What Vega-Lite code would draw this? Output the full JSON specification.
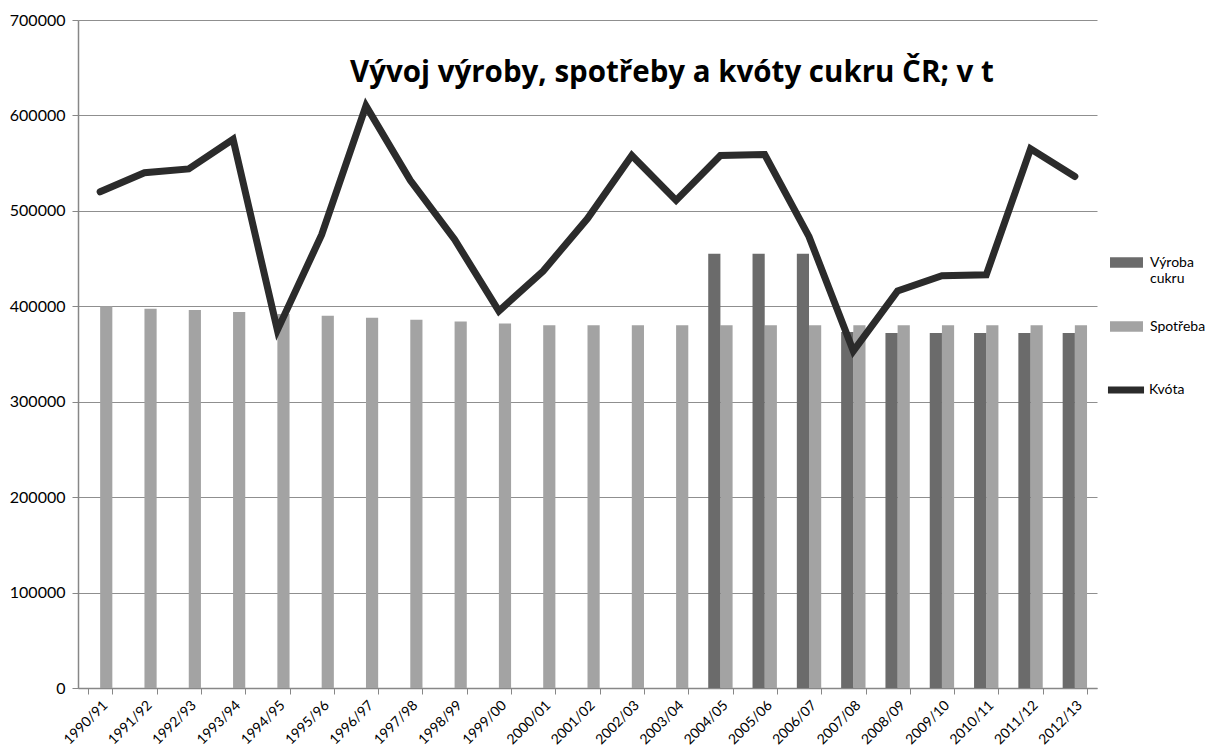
{
  "$schema": "https://vega.github.io/schema/vega-lite/v6.json",
  "width": 1019,
  "height": 668,
  "autosize": {"type": "none"},
  "padding": {"left": 78, "top": 20, "right": 114, "bottom": 63},
  "background": "white",
  "config": {
    "font": "Lato",
    "view": {"stroke": null},
    "axis": {"labelFont": "Lato", "labelColor": "#000", "labelFontSize": 16, "domainColor": "#878787", "tickColor": "#878787", "gridColor": "#8f8f8f", "domainWidth": 1.5, "gridWidth": 1.2}
  },
  "title": {
    "text": "Vývoj výroby, spotřeby a kvóty cukru ČR; v t",
    "font": "Open Sans",
    "fontSize": 29.5,
    "fontWeight": "bold",
    "color": "#000",
    "anchor": "start",
    "frame": "group",
    "dx": 272,
    "dy": 80
  },
  "datasets": {
    "bars": [
      {"rok": "1990/91", "serie": "Spotřeba", "hodnota": 400000},
      {"rok": "1991/92", "serie": "Spotřeba", "hodnota": 397500},
      {"rok": "1992/93", "serie": "Spotřeba", "hodnota": 396000},
      {"rok": "1993/94", "serie": "Spotřeba", "hodnota": 394000},
      {"rok": "1994/95", "serie": "Spotřeba", "hodnota": 392000},
      {"rok": "1995/96", "serie": "Spotřeba", "hodnota": 390000},
      {"rok": "1996/97", "serie": "Spotřeba", "hodnota": 388000},
      {"rok": "1997/98", "serie": "Spotřeba", "hodnota": 386000},
      {"rok": "1998/99", "serie": "Spotřeba", "hodnota": 384000},
      {"rok": "1999/00", "serie": "Spotřeba", "hodnota": 382000},
      {"rok": "2000/01", "serie": "Spotřeba", "hodnota": 380000},
      {"rok": "2001/02", "serie": "Spotřeba", "hodnota": 380000},
      {"rok": "2002/03", "serie": "Spotřeba", "hodnota": 380000},
      {"rok": "2003/04", "serie": "Spotřeba", "hodnota": 380000},
      {"rok": "2004/05", "serie": "Spotřeba", "hodnota": 380000},
      {"rok": "2005/06", "serie": "Spotřeba", "hodnota": 380000},
      {"rok": "2006/07", "serie": "Spotřeba", "hodnota": 380000},
      {"rok": "2007/08", "serie": "Spotřeba", "hodnota": 380000},
      {"rok": "2008/09", "serie": "Spotřeba", "hodnota": 380000},
      {"rok": "2009/10", "serie": "Spotřeba", "hodnota": 380000},
      {"rok": "2010/11", "serie": "Spotřeba", "hodnota": 380000},
      {"rok": "2011/12", "serie": "Spotřeba", "hodnota": 380000},
      {"rok": "2012/13", "serie": "Spotřeba", "hodnota": 380000},
      {"rok": "2004/05", "serie": "Výroba cukru", "hodnota": 455000},
      {"rok": "2005/06", "serie": "Výroba cukru", "hodnota": 455000},
      {"rok": "2006/07", "serie": "Výroba cukru", "hodnota": 455000},
      {"rok": "2007/08", "serie": "Výroba cukru", "hodnota": 373000},
      {"rok": "2008/09", "serie": "Výroba cukru", "hodnota": 372000},
      {"rok": "2009/10", "serie": "Výroba cukru", "hodnota": 372000},
      {"rok": "2010/11", "serie": "Výroba cukru", "hodnota": 372000},
      {"rok": "2011/12", "serie": "Výroba cukru", "hodnota": 372000},
      {"rok": "2012/13", "serie": "Výroba cukru", "hodnota": 372000}
    ],
    "kvota": [
      {"rok": "1990/91", "serie": "Kvóta", "hodnota": 520000},
      {"rok": "1991/92", "serie": "Kvóta", "hodnota": 540000},
      {"rok": "1992/93", "serie": "Kvóta", "hodnota": 544000},
      {"rok": "1993/94", "serie": "Kvóta", "hodnota": 575000},
      {"rok": "1994/95", "serie": "Kvóta", "hodnota": 375000},
      {"rok": "1995/96", "serie": "Kvóta", "hodnota": 475000},
      {"rok": "1996/97", "serie": "Kvóta", "hodnota": 610000},
      {"rok": "1997/98", "serie": "Kvóta", "hodnota": 532000},
      {"rok": "1998/99", "serie": "Kvóta", "hodnota": 470000},
      {"rok": "1999/00", "serie": "Kvóta", "hodnota": 395000},
      {"rok": "2000/01", "serie": "Kvóta", "hodnota": 437000},
      {"rok": "2001/02", "serie": "Kvóta", "hodnota": 492000},
      {"rok": "2002/03", "serie": "Kvóta", "hodnota": 558000},
      {"rok": "2003/04", "serie": "Kvóta", "hodnota": 511000},
      {"rok": "2004/05", "serie": "Kvóta", "hodnota": 558000},
      {"rok": "2005/06", "serie": "Kvóta", "hodnota": 559000},
      {"rok": "2006/07", "serie": "Kvóta", "hodnota": 473000},
      {"rok": "2007/08", "serie": "Kvóta", "hodnota": 353000},
      {"rok": "2008/09", "serie": "Kvóta", "hodnota": 416000},
      {"rok": "2009/10", "serie": "Kvóta", "hodnota": 432000},
      {"rok": "2010/11", "serie": "Kvóta", "hodnota": 433000},
      {"rok": "2011/12", "serie": "Kvóta", "hodnota": 565000},
      {"rok": "2012/13", "serie": "Kvóta", "hodnota": 536000}
    ]
  },
  "encoding": {
    "x": {
      "field": "rok",
      "type": "nominal",
      "sort": null,
      "scale": {"paddingInner": 0.45, "paddingOuter": 0.225},
      "axis": {"title": null, "labelAngle": -45, "labelFontSize": 14, "tickBand": "extent", "tickSize": 6, "grid": false, "labelPadding": 4, "labelOffset": 0}
    },
    "y": {
      "field": "hodnota",
      "type": "quantitative",
      "scale": {"domain": [0, 700000], "nice": false},
      "axis": {"title": null, "values": [0, 100000, 200000, 300000, 400000, 500000, 600000, 700000], "format": "d", "tickSize": 6, "labelPadding": 7}
    }
  },
  "layer": [
    {
      "data": {"name": "bars"},
      "mark": {"type": "bar"},
      "encoding": {
        "xOffset": {"field": "serie", "type": "nominal", "sort": ["Výroba cukru", "Spotřeba"], "scale": {"domain": ["Výroba cukru", "Spotřeba"], "paddingInner": 0}},
        "fill": {
          "field": "serie",
          "type": "nominal",
          "scale": {"domain": ["Výroba cukru", "Spotřeba"], "range": ["#6b6b6b", "#a3a3a3"]},
          "legend": {
            "title": null,
            "orient": "none",
            "legendX": 1038,
            "legendY": 232,
            "labelFont": "Lato",
            "labelFontSize": 14,
            "labelColor": "#000",
            "symbolType": "M-1.6,-0.5H1.6V0.5H-1.6Z",
            "symbolSize": 425,
            "symbolStrokeWidth": 0,
            "rowPadding": 30,
            "labelExpr": "datum.label == 'Výroba cukru' ? ['Výroba', 'cukru'] : datum.label",
            "labelBaseline": "middle",
            "labelOffset": 13
          }
        }
      }
    },
    {
      "data": {"name": "kvota"},
      "mark": {"type": "line", "strokeWidth": 7, "strokeJoin": "miter", "strokeCap": "round"},
      "encoding": {
        "stroke": {
          "field": "serie",
          "type": "nominal",
          "scale": {"domain": ["Kvóta"], "range": ["#2b2b2b"]},
          "legend": {
            "title": null,
            "orient": "none",
            "legendX": 1026,
            "legendY": 348,
            "labelFont": "Lato",
            "labelFontSize": 14,
            "labelColor": "#000",
            "symbolType": "stroke",
            "symbolSize": 1300,
            "symbolStrokeWidth": 7,
            "labelOffset": 1
          }
        }
      }
    }
  ]
}
